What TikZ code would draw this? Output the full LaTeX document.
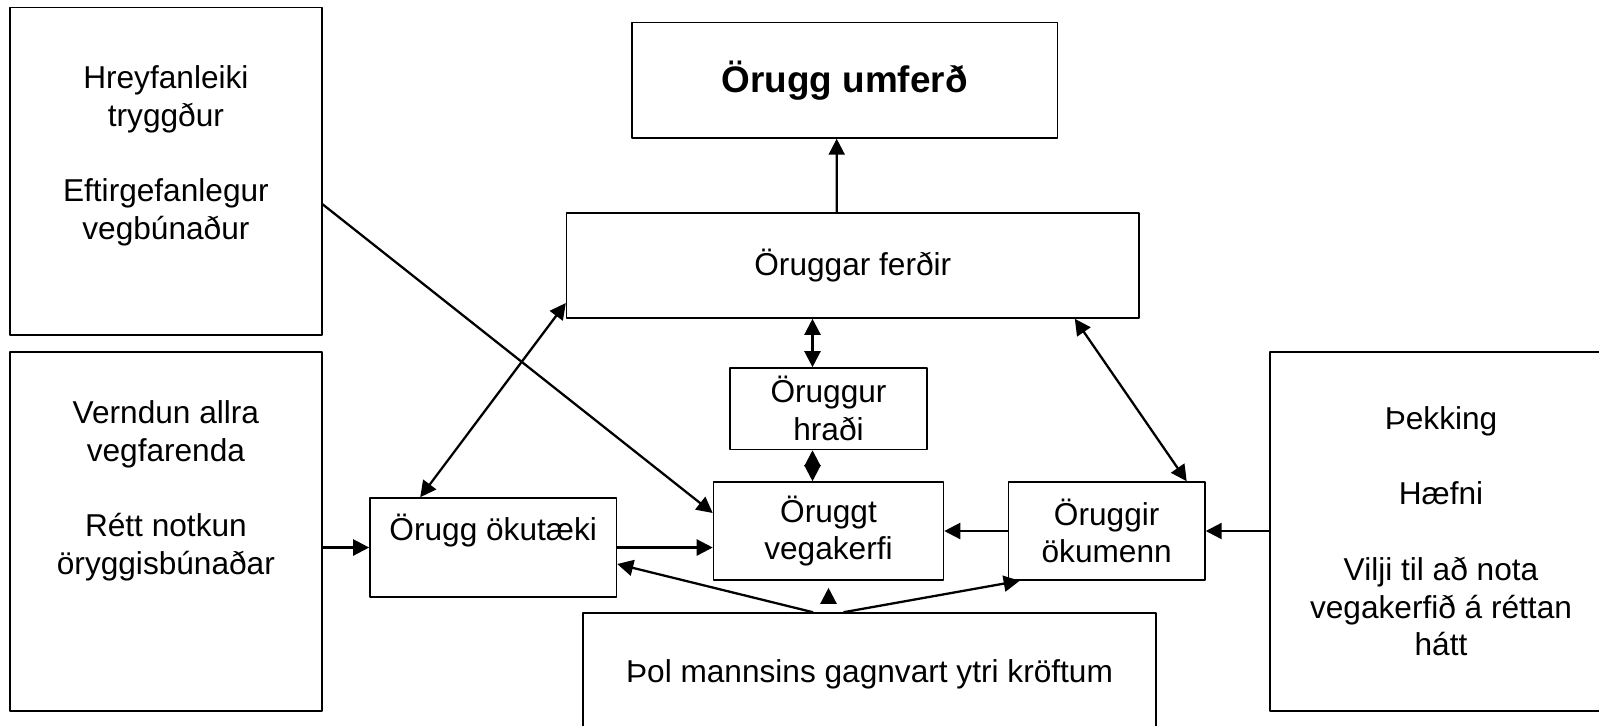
\documentclass[tikz,border=0pt]{standalone}
\usepackage{fontspec}
\setmainfont{Liberation Sans}
\usetikzlibrary{arrows.meta,calc}

\begin{document}
\begin{tikzpicture}[x=0.02cm, y=-0.02cm, font=\fontsize{18}{21.5}\selectfont, line join=round, >={Triangle[length=0.32cm, width=0.32cm]},
	box/.style={draw, line width=0.9pt, inner sep=0pt, align=center},
	txt/.style={inner sep=0pt, align=center},
	link/.style={line width=1.3pt}]
	\useasboundingbox (0,0) rectangle (1599,725);
	% left boxes
	\node[box, minimum width=6.234cm, minimum height=6.55cm] (mobility) at (165.9,171.2) {};
	\node[txt, anchor=north] (mobilitytext) at (165.9,65) {Hreyfanleiki\\tryggður\\[21.5pt]Eftirgefanlegur\\vegbúnaður};
	\node[box, minimum width=6.234cm, minimum height=7.18cm] (protect) at (165.9,531.5) {};
	\node[txt, anchor=north] (protecttext) at (165.9,400) {Verndun allra\\vegfarenda\\[21.5pt]Rétt notkun\\öryggisbúnaðar};
	% middle
	\node[box, minimum width=8.52cm, minimum height=2.306cm, font=\bfseries\fontsize{21}{25}\selectfont] (umferd) at (844.7,80.3) {Örugg umferð};
	\node[box, minimum width=11.45cm, minimum height=2.1cm] (ferdir) at (852.8,265.5) {Öruggar ferðir};
	\node[box, minimum width=3.94cm, minimum height=1.63cm] (hradi) at (828.5,408.7) {Öruggur\\hraði};
	\node[box, minimum width=4.6cm, minimum height=1.96cm] (vegakerfi) at (828.5,531) {Öruggt\\vegakerfi};
	\node[box, minimum width=4.93cm, minimum height=1.98cm] (okutaeki) at (493.2,547.5) {};
	\node[txt, anchor=base] (okutaekitext) at (493.2,540) {Örugg ökutæki};
	\node[box, minimum width=3.93cm, minimum height=1.96cm] (okumenn) at (1106.7,531) {Öruggir\\ökumenn};
	\node[box, minimum width=11.46cm, minimum height=2.44cm] (thol) at (869.5,674) {Þol mannsins gagnvart ytri kröftum};
	% right box
	\node[box, minimum width=6.84cm, minimum height=7.18cm] (knowledge) at (1441,531.5) {};
	\node[txt, anchor=north] (knowledgetext) at (1441,406) {Þekking\\[21.5pt]Hæfni\\[21.5pt]Vilji til að nota\\vegakerfið á réttan\\hátt};
	% arrows
	\draw[link,->] ($(ferdir.north)+(-16,0)$) -- ($(umferd.south)+(-8,0)$);
	\draw[link,->] ($(mobility.east)+(0,33)$) -- ($(vegakerfi.west)+(0,-18)$);
	\draw[link,<->] ($(okutaeki.north)+(-73,0)$) -- ($(ferdir.west)+(0,37.5)$);
	\draw[link,<->] ($(ferdir.south)+(-40.3,0)$) -- ($(hradi.north)+(-16,0)$);
	\draw[link,<->] ($(hradi.south)+(-16,0)$) -- ($(vegakerfi.north)+(-16,0)$);
	\draw[link,<->] ($(ferdir.south)+(222,0)$) -- ($(okumenn.north)+(80,0)$);
	\draw[link,->] (okutaeki.west -| protect.east) -- (okutaeki.west);
	\draw[link,->] (okutaeki.east) -- (okutaeki.east -| vegakerfi.west);
	\draw[link,->] (okumenn.west) -- (vegakerfi.east);
	\draw[link,->] (okumenn.east -| knowledge.west) -- (okumenn.east);
	\draw[link,->] ($(thol.north)+(-56.5,0)$) -- ($(okutaeki.east)+(0,16.5)$);
	\draw[link,->] ($(thol.north)+(-26,0)$) -- ($(okumenn.south west)+(12,0)$);
	\coordinate (stub) at ($(vegakerfi.south)+(0,23)$);
	\draw[link,->] (stub) -- ($(vegakerfi.south)+(0,7)$);
\end{tikzpicture}
\end{document}
